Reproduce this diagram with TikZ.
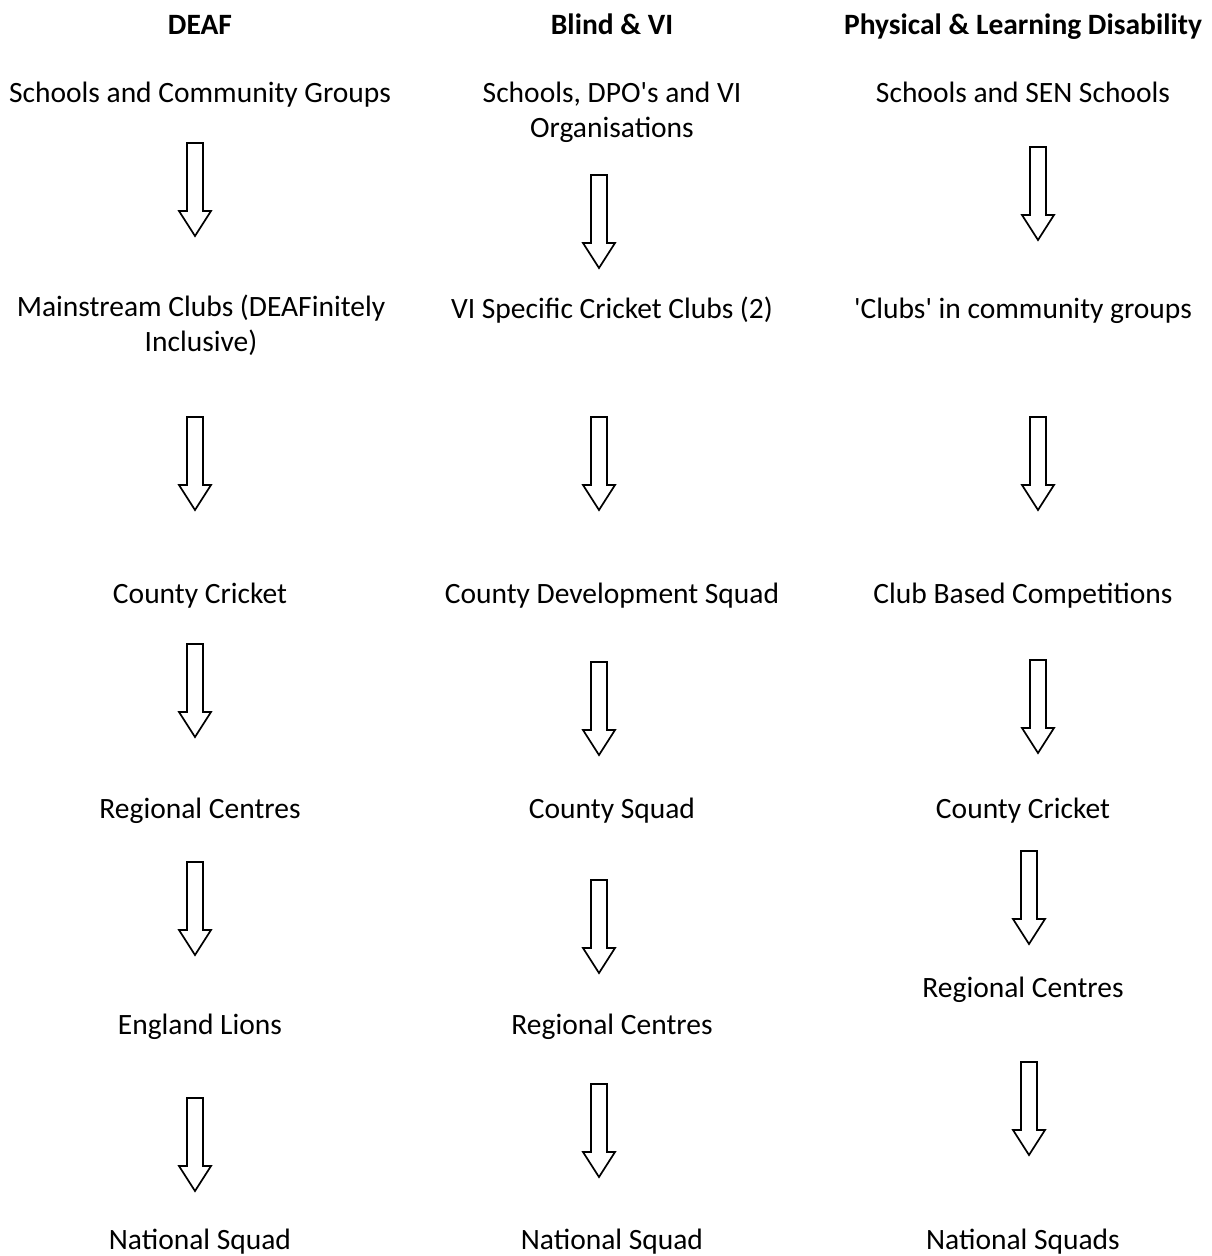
\documentclass[tikz,border=0pt]{standalone}
\usepackage{fontspec}
\setmainfont{Carlito}

\begin{document}
\begin{tikzpicture}[
  x=1pt, y=-1pt,
  stage/.style={align=center, anchor=base, inner sep=0pt, font=\fontsize{29.5}{35}\selectfont},
  heading/.style={align=center, anchor=base, inner sep=0pt, font=\fontsize{29.5}{35}\selectfont\bfseries},
  blockarrow/.pic={\draw[line width=1.7pt, line join=miter] (-8,0) -- (8,0) -- (8,68) -- (16,68) -- (0,93) -- (-16,68) -- (-8,68) -- cycle;}
]
\useasboundingbox (0,0) rectangle (1212,1256);

% Headings
\node[heading] (deaf) at (200,34) {DEAF};
\node[heading] (blind) at (612,34) {Blind \& VI};
\node[heading] (phys) at (1023,34) {Physical \& Learning Disability};

% Nodes - DEAF (two-line nodes sit on their last line)
\node[stage] (D1) at (200,102) {Schools and Community Groups};
\node[stage] (D2) at (201,351) {Mainstream Clubs (DEAFinitely\\Inclusive)};
\node[stage] (D3) at (200,603) {County Cricket};
\node[stage] (D4) at (200,818) {Regional Centres};
\node[stage] (D5) at (200,1034) {England Lions};
\node[stage] (D6) at (200,1249) {National Squad};

% Nodes - Blind & VI
\node[stage] (B1) at (612,137) {Schools, DPO\textquotesingle s and VI\\Organisations};
\node[stage] (B2) at (612,318) {VI Specific Cricket Clubs (2)};
\node[stage] (B3) at (612,603) {County Development Squad};
\node[stage] (B4) at (612,818) {County Squad};
\node[stage] (B5) at (612,1034) {Regional Centres};
\node[stage] (B6) at (612,1249) {National Squad};

% Nodes - Physical & Learning Disability
\node[stage] (P1) at (1023,102) {Schools and SEN Schools};
\node[stage] (P2) at (1023,318) {\textquotesingle Clubs\textquotesingle{} in community groups};
\node[stage] (P3) at (1023,603) {Club Based Competitions};
\node[stage] (P4) at (1023,818) {County Cricket};
\node[stage] (P5) at (1023,997) {Regional Centres};
\node[stage] (P6) at (1023,1249) {National Squads};

% Arrows
\pic at (195,143) {blockarrow};
\pic at (195,417) {blockarrow};
\pic at (195,644) {blockarrow};
\pic at (195,862) {blockarrow};
\pic at (195,1098) {blockarrow};

\pic at (599,175) {blockarrow};
\pic at (599,417) {blockarrow};
\pic at (599,662) {blockarrow};
\pic at (599,880) {blockarrow};
\pic at (599,1084) {blockarrow};

\pic at (1038,147) {blockarrow};
\pic at (1038,417) {blockarrow};
\pic at (1038,660) {blockarrow};
\pic at (1029,851) {blockarrow};
\pic at (1029,1062) {blockarrow};

\end{tikzpicture}
\end{document}
